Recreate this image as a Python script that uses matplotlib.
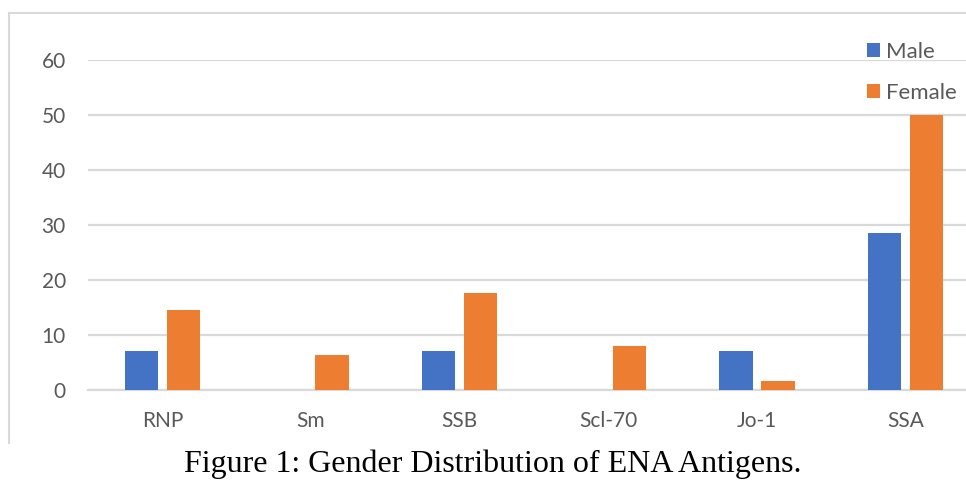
import numpy as np
import matplotlib.pyplot as plt
from matplotlib.lines import Line2D

# datos
antigenos = ['RNP', 'Sm', 'SSB', 'Scl-70', 'Jo-1', 'SSA']
male = [7.1, 0, 7.1, 0, 7.1, 28.5]
female = [14.5, 6.3, 17.6, 8.0, 1.6, 50.0]
y_ticks = [0, 10, 20, 30, 40, 50, 60]

AZUL = '#4472C4'
NARANJA = '#ED7D31'
GRIS_TXT = '#595959'
GRIS_LINEA = '#D9D9D9'

fig = plt.figure(figsize=(9.66, 4.99), dpi=100)
ax = fig.add_axes([88 / 966, 1 - 390 / 499, 892 / 966, 330 / 499])

x = np.arange(len(antigenos))
ancho = 0.224
desp = 0.142
ax.bar(x - desp, male, ancho, color=AZUL, label='Male', zorder=3)
ax.bar(x + desp, female, ancho, color=NARANJA, label='Female', zorder=3)

ax.set_xlim(-0.5, len(antigenos) - 0.5)
ax.set_ylim(0, 60)
ax.set_yticks(y_ticks)
ax.set_xticks(x)
ax.set_xticklabels(antigenos)

fuente = 'Lato'
for lbl in ax.get_xticklabels() + ax.get_yticklabels():
    lbl.set_fontfamily(fuente)
    lbl.set_fontsize(15)
    lbl.set_color(GRIS_TXT)

ax.tick_params(axis='both', length=0)
ax.tick_params(axis='y', pad=16)
ax.tick_params(axis='x', pad=15)
ax.grid(axis='y', color=GRIS_LINEA, linewidth=1.6, zorder=0)
ax.set_axisbelow(True)
for s in ['top', 'right', 'left']:
    ax.spines[s].set_visible(False)
ax.spines['bottom'].set_color(GRIS_LINEA)
ax.spines['bottom'].set_linewidth(1.6)
ax.spines['bottom'].set_zorder(0)

leg = fig.legend(loc='upper left', bbox_to_anchor=(847 / 966, 1 - 22 / 499),
                 frameon=False, handlelength=0.6, handleheight=0.6,
                 handletextpad=0.25, labelspacing=0.95,
                 prop={'family': fuente, 'size': 16})
for t in leg.get_texts():
    t.set_color(GRIS_TXT)

# borde del area del grafico
fig.add_artist(Line2D([9 / 966, 9 / 966], [1 - 13 / 499, 1 - 443 / 499],
                      transform=fig.transFigure, color=GRIS_LINEA, linewidth=1.5))
fig.add_artist(Line2D([9 / 966, 1.0], [1 - 13 / 499, 1 - 13 / 499],
                      transform=fig.transFigure, color=GRIS_LINEA, linewidth=1.5))

fig.text(493 / 966, 1 - 464 / 499, 'Figure 1: Gender Distribution of ENA Antigens.',
         ha='center', va='center', family='Liberation Serif', fontsize=23, color='black')

fig.savefig('out.png', dpi=100)
